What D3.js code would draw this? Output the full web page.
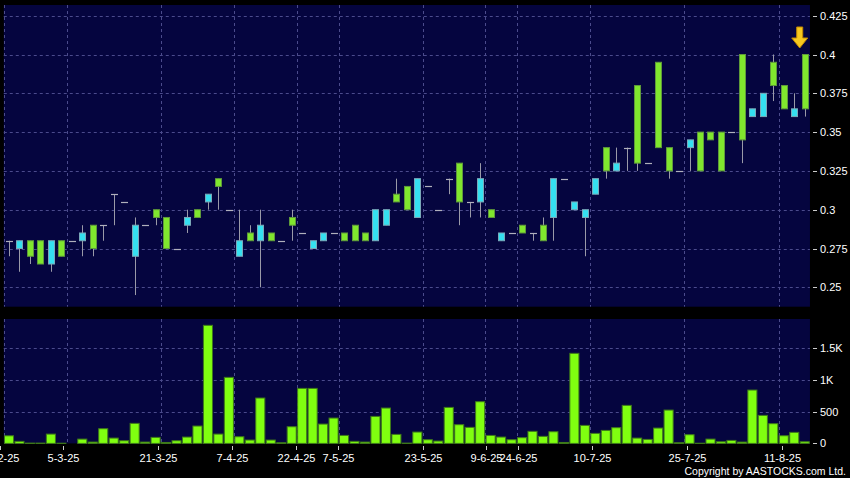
<!DOCTYPE html>
<html><head><meta charset="utf-8">
<script src="https://cdn.jsdelivr.net/npm/d3@7"></script>
<style>
html,body{margin:0;padding:0;background:#000;}
svg{display:block;font-family:"Liberation Sans",Arial,sans-serif;}
</style></head>
<body><svg id="c" width="850" height="478"></svg>
<script>
// ---- data (one entry per trading slot) ----
const opens  = [0.28,0.28,0.27,0.265,0.28,0.27,0.28,0.285,0.275,0.29,0.31,0.305,0.29,0.29,0.295,0.275,0.275,0.295,0.295,0.31,0.315,0.30,0.28,0.28,0.29,0.28,0.28,0.29,0.285,0.28,0.285,0.285,0.28,0.28,0.28,0.30,0.30,0.305,0.30,0.32,0.315,0.30,0.32,0.305,0.305,0.32,0.295,0.285,0.285,0.285,0.285,0.28,0.32,0.32,0.305,0.30,0.32,0.325,0.33,0.34,0.33,0.33,0.34,0.325,0.325,0.345,0.325,0.345,0.325,0.35,0.345,0.365,0.375,0.38,0.365,0.365,0.365];
const highs  = [0.28,0.28,0.28,0.28,0.28,0.28,0.28,0.29,0.29,0.29,0.31,0.305,0.295,0.29,0.30,0.295,0.275,0.30,0.30,0.31,0.32,0.30,0.30,0.29,0.30,0.285,0.28,0.30,0.285,0.28,0.285,0.285,0.285,0.29,0.285,0.30,0.30,0.32,0.315,0.32,0.315,0.30,0.32,0.33,0.305,0.33,0.30,0.285,0.285,0.29,0.285,0.295,0.32,0.32,0.305,0.30,0.32,0.34,0.34,0.34,0.38,0.33,0.395,0.34,0.325,0.345,0.35,0.35,0.35,0.35,0.40,0.365,0.375,0.40,0.38,0.375,0.40];
const lows   = [0.27,0.26,0.265,0.265,0.26,0.27,0.28,0.27,0.27,0.28,0.29,0.305,0.245,0.29,0.29,0.275,0.275,0.285,0.295,0.30,0.30,0.30,0.27,0.28,0.25,0.28,0.28,0.28,0.285,0.275,0.28,0.285,0.28,0.28,0.28,0.28,0.29,0.305,0.30,0.295,0.315,0.30,0.31,0.29,0.295,0.295,0.295,0.28,0.285,0.285,0.28,0.28,0.28,0.32,0.30,0.27,0.31,0.32,0.325,0.325,0.325,0.33,0.34,0.32,0.325,0.325,0.325,0.345,0.325,0.35,0.33,0.36,0.36,0.37,0.365,0.36,0.36];
const closes = [0.28,0.275,0.28,0.28,0.265,0.28,0.28,0.28,0.29,0.29,0.31,0.305,0.27,0.29,0.30,0.295,0.275,0.29,0.30,0.305,0.32,0.30,0.27,0.285,0.28,0.285,0.28,0.295,0.285,0.275,0.28,0.285,0.285,0.29,0.285,0.28,0.29,0.31,0.315,0.295,0.315,0.30,0.32,0.33,0.305,0.305,0.30,0.28,0.285,0.29,0.285,0.29,0.295,0.32,0.30,0.295,0.31,0.34,0.325,0.34,0.38,0.33,0.395,0.34,0.325,0.34,0.35,0.35,0.35,0.35,0.40,0.36,0.36,0.395,0.38,0.36,0.40];
const volumes = [120,32,5,5,147,3,0,68,21,232,84,42,316,21,95,15,42,100,274,1863,147,1042,105,53,716,53,10,263,868,868,305,400,126,32,21,426,558,142,5,179,58,37,568,295,253,658,126,100,58,90,190,111,184,15,1421,284,158,205,248,600,84,63,242,526,10,137,3,68,26,47,21,842,442,311,121,174,26];
const dateLabels = ["19-2-25","5-3-25","21-3-25","7-4-25","22-4-25","7-5-25","23-5-25","9-6-25","24-6-25","10-7-25","25-7-25","11-8-25"];
const dateSlots  = [0,6,15,22,28,32,40,46,49,56,65,74];
const priceTicks = [0.25,0.275,0.3,0.325,0.35,0.375,0.4,0.425];
const priceTickLabels = ["0.25","0.275","0.3","0.325","0.35","0.375","0.4","0.425"];
const volTicks = [0,500,1000,1500];
const volTickLabels = ["0","500","1K","1.5K"];

// ---- layout ----
const N = opens.length;
const L = 3.77, R = 809.96;
const pTop = 5, pBot = 306.7, vTop = 319, vBot = 443.4;
const svg = d3.select("#c");
svg.append("rect").attr("width",850).attr("height",478).attr("fill","#000");

const x = d3.scaleBand().domain(d3.range(N)).range([L,R]).padding(0);
const xb = d3.scaleLinear().domain([0,N]).range([L,R]);          // slot boundaries (gridlines)
const xl = d3.scaleLinear().domain([0,N]).range([-0.24,813.8]);  // label positions
const bw = x.bandwidth();
const y = d3.scaleLinear().domain([0.2375,0.4319]).range([pBot,pTop]);
const yv = d3.scaleLinear().domain([0,1963]).range([vBot,vTop]);

const bg = "#05053f", grid = "#4b4b8c";
svg.append("rect").attr("x",L).attr("y",pTop).attr("width",R-L).attr("height",pBot-pTop).attr("fill",bg);
svg.append("rect").attr("x",L).attr("y",vTop).attr("width",R-L).attr("height",vBot-vTop).attr("fill",bg);

// gridlines
const g = svg.append("g").attr("stroke",grid).attr("stroke-width",1).attr("stroke-dasharray","3,3");
dateSlots.forEach(s=>{
  const gx = Math.round(xb(s))+0.5;
  g.append("line").attr("x1",gx).attr("x2",gx).attr("y1",pTop).attr("y2",pBot);
  g.append("line").attr("x1",gx).attr("x2",gx).attr("y1",vTop).attr("y2",vBot);
});
priceTicks.forEach(t=>{
  const gy = Math.round(y(t))+0.5;
  g.append("line").attr("x1",L).attr("x2",R).attr("y1",gy).attr("y2",gy);
});
volTicks.slice(1).forEach(t=>{
  const gy = Math.round(yv(t))+0.5;
  g.append("line").attr("x1",L).attr("x2",R).attr("y1",gy).attr("y2",gy);
});

// candles
const cw = 6;
const data = d3.range(N).map(i=>({i,o:opens[i],h:highs[i],l:lows[i],c:closes[i],v:volumes[i]}));
const cg = svg.append("g");
data.forEach(d=>{
  const cx = Math.round(x(d.i)+bw/2)+0.5;
  cg.append("line").attr("x1",cx).attr("x2",cx).attr("y1",y(d.h)).attr("y2",y(d.l))
    .attr("stroke","#9a9aa8").attr("stroke-width",1);
  if (d.o === d.c) {
    const yy = Math.round(y(d.o))+0.5;
    cg.append("line").attr("x1",cx-cw/2-0.5).attr("x2",cx+cw/2+0.5).attr("y1",yy).attr("y2",yy)
      .attr("stroke","#b0b0bc").attr("stroke-width",1.2);
  } else {
    const up = d.c > d.o;
    const top = y(Math.max(d.o,d.c)), bot = y(Math.min(d.o,d.c));
    cg.append("rect").attr("x",cx-cw/2).attr("y",top).attr("width",cw).attr("height",bot-top)
      .attr("fill", up ? "#80e62e" : "#35e0f0")
      .attr("stroke", up ? "#5f9a3a" : "#7aa8b8").attr("stroke-width",1);
  }
});

// volume bars
svg.append("g").selectAll("rect").data(data).join("rect")
  .attr("x",d=>x(d.i)+0.7).attr("width",bw-1.4)
  .attr("y",d=>yv(d.v)).attr("height",d=>vBot-yv(d.v))
  .attr("fill","#80ff10").attr("stroke","#3f7a1a").attr("stroke-width",1);

// right axes
const ax = svg.append("g").attr("fill","#fff").attr("font-size","11px");
priceTicks.forEach((t,k)=>{
  const ty = Math.round(y(t))+0.5;
  ax.append("line").attr("x1",813).attr("x2",817).attr("y1",ty).attr("y2",ty).attr("stroke","#ccc");
  ax.append("text").attr("x",820).attr("y",ty).attr("dy","0.35em").text(priceTickLabels[k]);
});
volTicks.forEach((t,k)=>{
  const ty = Math.round(yv(t))+0.5;
  ax.append("line").attr("x1",813).attr("x2",817).attr("y1",ty).attr("y2",ty).attr("stroke","#ccc");
  ax.append("text").attr("x",820).attr("y",ty).attr("dy","0.35em").text(volTickLabels[k]);
});

// bottom date axis
dateSlots.forEach((s,k)=>{
  const tx = Math.round(xl(s))+0.5;
  ax.append("line").attr("x1",tx).attr("x2",tx).attr("y1",446).attr("y2",450).attr("stroke","#ccc");
  ax.append("text").attr("x",tx).attr("y",462).attr("text-anchor","middle").text(dateLabels[k]);
});

// copyright
svg.append("text").attr("x",846).attr("y",475).attr("text-anchor","end").attr("fill","#fff")
  .attr("font-size","10.5px").text("Copyright by AASTOCKS.com Ltd.");

// latest marker arrow
const ax0 = x(N-1)+bw/2 - 5;
const arrow = d3.path();
arrow.moveTo(ax0-3,27); arrow.lineTo(ax0+3,27); arrow.lineTo(ax0+3,38); arrow.lineTo(ax0+8,38);
arrow.lineTo(ax0,48); arrow.lineTo(ax0-8,38); arrow.lineTo(ax0-3,38); arrow.closePath();
svg.append("path").attr("d",arrow.toString()).attr("fill","#f7c81e").attr("stroke","#c58a00").attr("stroke-width",1);
</script></body></html>
